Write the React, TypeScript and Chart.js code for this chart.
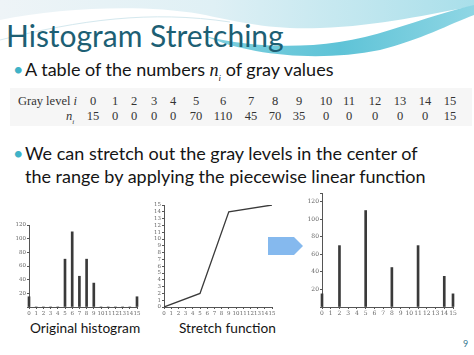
import React, { useEffect, useRef } from "react";
import { Chart, registerables } from "chart.js";

Chart.register(...registerables);

// ---- data ----
const grayLevels = [0, 1, 2, 3, 4, 5, 6, 7, 8, 9, 10, 11, 12, 13, 14, 15];
const counts = [15, 0, 0, 0, 0, 70, 110, 45, 70, 35, 0, 0, 0, 0, 0, 15];
const stretchIn = [0, 5, 9, 15];
const stretchOut = [0, 2, 14, 15];
const stretchedLevels = [0, 2, 5, 8, 11, 14, 15];
const stretchedCounts = [15, 70, 110, 45, 70, 35, 15];
const countTicks = [20, 40, 60, 80, 100, 120];

// ---- layout ----
const tableColX = [93, 115, 134, 154, 173, 196, 223, 251, 275, 299, 326, 349, 375, 400, 425, 450];

const AXIS = "#555";
const MARK = "#3a3a3a";
const TICK_FONT = "'DejaVu Serif', 'Liberation Serif', serif";

type Box = { left: number; top: number; width: number; height: number; yW: number; xH: number; padTop: number; padRight: number };

function axisOpts(min: number, max: number, step: number, fontSize: number, shown: number[] | null, fixed: number, isY: boolean) {
  return {
    type: "linear" as const,
    min,
    max,
    offset: false,
    grid: { display: true, drawOnChartArea: false, drawTicks: true, tickLength: 2, color: AXIS, offset: false },
    border: { display: true, color: AXIS, width: 1 },
    ticks: {
      stepSize: step,
      autoSkip: false,
      maxRotation: 0,
      minRotation: 0,
      padding: 1,
      color: "#666",
      font: { size: fontSize, family: TICK_FONT },
      callback: (v: number) => (shown && !shown.includes(v) ? "" : String(v)),
    },
    afterFit: (scale: any) => {
      if (isY) scale.width = fixed;
      else scale.height = fixed;
    },
  };
}

function ChartBox({ box, config }: { box: Box; config: any }) {
  const ref = useRef<HTMLCanvasElement>(null);
  useEffect(() => {
    if (!ref.current) return;
    const chart = new Chart(ref.current, config);
    return () => chart.destroy();
  }, []);
  return (
    <canvas
      ref={ref}
      width={box.width}
      height={box.height}
      style={{ position: "absolute", left: box.left, top: box.top, width: box.width, height: box.height }}
    />
  );
}

function barConfig(xs: number[], ys: number[], box: Box, yMax: number, fontSize: number) {
  return {
    type: "bar",
    data: {
      datasets: [
        {
          data: xs.map((x, i) => ({ x, y: ys[i] })),
          backgroundColor: MARK,
          borderWidth: 0,
          barThickness: 2,
          clip: false,
        },
      ],
    },
    options: {
      responsive: false,
      animation: false,
      layout: { padding: { top: box.padTop, right: box.padRight, left: 0, bottom: 0 } },
      plugins: { legend: { display: false }, tooltip: { enabled: false } },
      scales: {
        x: axisOpts(0, 15, 1, fontSize, null, box.xH, false),
        y: axisOpts(0, yMax, 20, fontSize, countTicks, box.yW, true),
      },
    },
  };
}

const box1: Box = { left: 12, top: 212, width: 132, height: 105, yW: 17, xH: 10, padTop: 13, padRight: 7 };
const box2: Box = { left: 150, top: 198, width: 130, height: 119, yW: 14, xH: 10, padTop: 7, padRight: 8 };
const box3: Box = { left: 305, top: 188, width: 155, height: 129, yW: 17, xH: 10, padTop: 5, padRight: 7 };

const config1 = barConfig(grayLevels, counts, box1, 120, 5.5);
const config3 = barConfig(stretchedLevels, stretchedCounts, box3, 130, 6);
const config2 = {
  type: "line",
  data: {
    datasets: [
      {
        data: stretchIn.map((x, i) => ({ x, y: stretchOut[i] })),
        borderColor: MARK,
        borderWidth: 1.3,
        pointRadius: 0,
        tension: 0,
      },
    ],
  },
  options: {
    responsive: false,
    animation: false,
    layout: { padding: { top: box2.padTop, right: box2.padRight, left: 0, bottom: 0 } },
    plugins: { legend: { display: false }, tooltip: { enabled: false } },
    scales: {
      x: axisOpts(0, 15, 1, 5.5, null, box2.xH, false),
      y: axisOpts(0, 15, 1, 5.5, null, box2.yW, true),
    },
  },
};

const SANS = "Lato, 'Open Sans', sans-serif";
const SERIF = "'Liberation Serif', 'DejaVu Serif', serif";

export default function App() {
  return (
    <div
      style={{
        position: "absolute",
        left: 0,
        top: 0,
        width: 474,
        height: 355,
        background: "#ffffff",
        overflow: "hidden",
        fontFamily: SANS,
      }}
    >
      <svg width={474} height={70} style={{ position: "absolute", left: 0, top: 0 }}>
        <defs>
          <linearGradient id="topfill" x1="0" y1="0" x2="1" y2="0">
            <stop offset="0" stopColor="#eef4f7" />
            <stop offset="0.45" stopColor="#dff0f5" />
            <stop offset="1" stopColor="#a9dfea" />
          </linearGradient>
          <linearGradient id="band" x1="0" y1="0" x2="1" y2="0">
            <stop offset="0" stopColor="#7fd0df" />
            <stop offset="0.5" stopColor="#5ec3d7" />
            <stop offset="1" stopColor="#8fd6e4" />
          </linearGradient>
        </defs>
        <path d="M0,0 H474 V6 C430,14 380,26 320,28 C270,30 240,22 200,14 C140,4 60,8 0,20 Z" fill="url(#topfill)" />
        <path d="M205,36 C260,50 330,50 390,30 C425,19 452,10 474,5 V15 C450,24 420,40 380,50 C320,62 250,56 205,36 Z" fill="url(#band)" />
        <path d="M0,40 C80,20 150,10 230,22" stroke="#d4e8ee" strokeWidth={1} fill="none" />
      </svg>

      <div
        style={{
          position: "absolute",
          left: 6,
          top: 20,
          fontSize: 30,
          lineHeight: "30px",
          color: "#1d5f74",
          whiteSpace: "nowrap",
        }}
      >
        Histogram Stretching
      </div>

      <div style={{ position: "absolute", left: 13, top: 60, fontSize: 18, lineHeight: "18px", color: "#3fb3c8" }}>•</div>
      <div style={{ position: "absolute", left: 25, top: 60, fontSize: 18, lineHeight: "18px", color: "#151515", whiteSpace: "nowrap" }}>
        A table of the numbers{" "}
        <span style={{ fontFamily: SERIF, fontStyle: "italic" }}>
          n<sub style={{ fontSize: 9 }}>i</sub>
        </span>{" "}
        of gray values
      </div>

      <div style={{ position: "absolute", left: 10, top: 88, width: 462, height: 38, background: "#f6f6f6" }} />
      <div style={{ position: "absolute", left: 18, top: 95, fontFamily: SERIF, fontSize: 12.5, lineHeight: "12px", color: "#333", whiteSpace: "nowrap" }}>
        Gray level <i>i</i>
      </div>
      <div style={{ position: "absolute", left: 66, top: 110, fontFamily: SERIF, fontSize: 12.5, lineHeight: "12px", color: "#333", whiteSpace: "nowrap" }}>
        <i>n</i>
        <sub style={{ fontSize: 7 }}>
          <i>i</i>
        </sub>
      </div>
      {grayLevels.map((g, i) => (
        <div
          key={"g" + i}
          style={{
            position: "absolute",
            left: tableColX[i],
            top: 95,
            transform: "translateX(-50%)",
            fontFamily: SERIF,
            fontSize: 12.5,
            lineHeight: "12px",
            color: "#333",
          }}
        >
          {g}
        </div>
      ))}
      {counts.map((c, i) => (
        <div
          key={"c" + i}
          style={{
            position: "absolute",
            left: tableColX[i],
            top: 110,
            transform: "translateX(-50%)",
            fontFamily: SERIF,
            fontSize: 12.5,
            lineHeight: "12px",
            color: "#333",
          }}
        >
          {c}
        </div>
      ))}

      <div style={{ position: "absolute", left: 13, top: 142, fontSize: 18, lineHeight: "23px", color: "#3fb3c8" }}>•</div>
      <div style={{ position: "absolute", left: 25, top: 142, fontSize: 18, lineHeight: "23px", color: "#151515", whiteSpace: "nowrap" }}>
        We can stretch out the gray levels in the center of
        <br />
        the range by applying the piecewise linear function
      </div>

      <ChartBox box={box1} config={config1} />
      <ChartBox box={box2} config={config2} />
      <ChartBox box={box3} config={config3} />

      <svg width={40} height={24} style={{ position: "absolute", left: 267, top: 235 }}>
        <path d="M1,2 H27 L36,11 L27,20 H1 Z" fill="#85b9ee" />
      </svg>

      <div style={{ position: "absolute", left: 30, top: 321, fontSize: 13.7, lineHeight: "14px", color: "#151515", whiteSpace: "nowrap" }}>
        Original histogram
      </div>
      <div style={{ position: "absolute", left: 179, top: 321, fontSize: 13.7, lineHeight: "14px", color: "#151515", whiteSpace: "nowrap" }}>
        Stretch function
      </div>
      <div style={{ position: "absolute", left: 463, top: 339, fontSize: 9, lineHeight: "9px", color: "#3a7a90" }}>9</div>
    </div>
  );
}
